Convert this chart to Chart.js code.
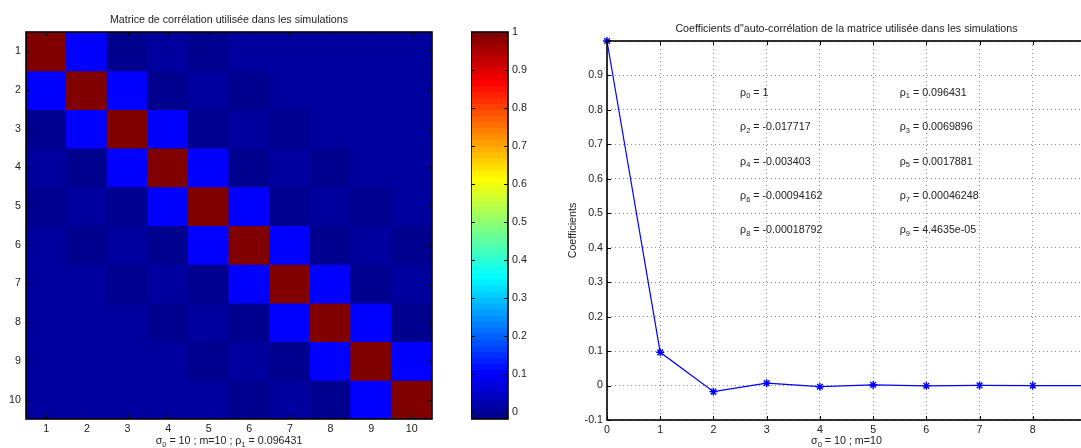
<!DOCTYPE html>
<html>
<head>
<meta charset="utf-8">
<title>Corrélation</title>
<script src="https://cdn.jsdelivr.net/npm/chart.js@4.4.1/dist/chart.umd.min.js"></script>
<style>
    html, body { margin: 0; padding: 0; background: #fff; overflow: hidden; width: 1081px; height: 448px; }
    .panel { position: absolute; top: 0; height: 448px; }
    #heat-panel { left: 0; width: 450px; }
    #bar-panel { left: 471px; width: 60px; }
    #coef-panel { left: 560px; width: 540px; }
</style>
</head>
<body>
<div class="panel" id="heat-panel"><canvas id="heatChart"></canvas></div>
<div class="panel" id="bar-panel"><canvas id="colorbarChart"></canvas></div>
<div class="panel" id="coef-panel"><canvas id="coefChart"></canvas></div>
<script>
// auto-correlation coefficients rho_k, k = 0..9
const lags = [0, 1, 2, 3, 4, 5, 6, 7, 8, 9];
const rho = [1, 0.096431, -0.017717, 0.0069896, -0.003403, 0.0017881, -0.00094162, 0.00046248, -0.00018792, 4.4635e-05];
const rhoText = ["1", "0.096431", "-0.017717", "0.0069896", "-0.003403", "0.0017881", "-0.00094162", "0.00046248", "-0.00018792", "4.4635e-05"];

const matrixLabels = ["1", "2", "3", "4", "5", "6", "7", "8", "9", "10"];
const heatTicks = [1, 2, 3, 4, 5, 6, 7, 8, 9, 10];
const colorbarTicks = [0, 0.1, 0.2, 0.3, 0.4, 0.5, 0.6, 0.7, 0.8, 0.9, 1];
const coefTicks = [-0.1, 0, 0.1, 0.2, 0.3, 0.4, 0.5, 0.6, 0.7, 0.8, 0.9, 1];

const sigma0 = 10;
const mSize = 10;

const FONT = '"Liberation Sans", Arial, Helvetica, sans-serif';
const FSIZE = 10.7;
const TEXT = "#222";

// matlab "jet" colormap
function jetMap(m) {
    const n = Math.ceil(m / 4);
    const u = [];
    for (let i = 1; i <= n; i++) u.push(i / n);
    for (let i = 1; i < n; i++) u.push(1);
    for (let i = n; i >= 1; i--) u.push(i / n);
    const g0 = Math.ceil(n / 2) - (m % 4 === 1 ? 1 : 0);
    const rgb = Array.from({ length: m }, () => [0, 0, 0]);
    u.forEach((val, k) => {
        const g = g0 + k;       // 0-based row index
        const r = g + n;
        const b = g - n;
        if (r >= 0 && r < m) rgb[r][0] = val;
        if (g >= 0 && g < m) rgb[g][1] = val;
        if (b >= 0 && b < m) rgb[b][2] = val;
    });
    return rgb.map(c => `rgb(${Math.round(c[0] * 255)},${Math.round(c[1] * 255)},${Math.round(c[2] * 255)})`);
}

const jet = jetMap(64);
const cMin = Math.min(...rho);
const cMax = Math.max(...rho);

function colorOf(v) {
    let k = Math.floor((v - cMin) / (cMax - cMin) * jet.length);
    k = Math.min(Math.max(k, 0), jet.length - 1);
    return jet[k];
}

// text with subscripts: parts = [[text, isSub], ...]
function drawRich(ctx, parts, x, y, align) {
    const big = FSIZE + "px " + FONT;
    const small = "7.5px " + FONT;
    let w = 0;
    parts.forEach(([t, sub]) => {
        ctx.font = sub ? small : big;
        w += ctx.measureText(t).width;
    });
    let cx = align === "center" ? x - w / 2 : x;
    ctx.textAlign = "left";
    ctx.textBaseline = "middle";
    parts.forEach(([t, sub]) => {
        ctx.font = sub ? small : big;
        ctx.fillText(t, cx, sub ? y + 3.5 : y);
        cx += ctx.measureText(t).width;
    });
}

// frame, inward ticks, titles and labels drawn the matlab way
const matlabFrame = {
    id: "matlabFrame",
    afterDraw(chart, args, opts) {
        const { ctx, chartArea: a } = chart;
        ctx.save();
        ctx.strokeStyle = "#000";
        ctx.lineWidth = 1;
        ctx.beginPath();
        if (opts.xTicks) {
            const sx = chart.scales.x;
            sx.ticks.forEach((t, i) => {
                const px = Math.round(sx.getPixelForTick(i)) + 0.5;
                ctx.moveTo(px, a.bottom); ctx.lineTo(px, a.bottom - 4);
                ctx.moveTo(px, a.top); ctx.lineTo(px, a.top + 4);
            });
        }
        if (opts.yTicks) {
            const sy = chart.scales.y;
            sy.ticks.forEach((t, i) => {
                const py = Math.round(sy.getPixelForTick(i)) + 0.5;
                ctx.moveTo(a.left, py); ctx.lineTo(a.left + 4, py);
                ctx.moveTo(a.right, py); ctx.lineTo(a.right - 4, py);
            });
        }
        ctx.stroke();
        ctx.lineWidth = 1.6;
        ctx.strokeRect(Math.round(a.left), Math.round(a.top),
            Math.round(a.right - a.left), Math.round(a.bottom - a.top));

        ctx.fillStyle = TEXT;
        const midX = (a.left + a.right) / 2;
        if (opts.title) {
            ctx.font = FSIZE + "px " + FONT;
            ctx.textAlign = "center";
            ctx.textBaseline = "middle";
            ctx.fillText(opts.title, midX, opts.titleY);
        }
        if (opts.xlabel) drawRich(ctx, opts.xlabel, midX, opts.xlabelY, "center");
        if (opts.ylabel) {
            ctx.save();
            ctx.translate(opts.ylabelX, (a.top + a.bottom) / 2);
            ctx.rotate(-Math.PI / 2);
            ctx.font = FSIZE + "px " + FONT;
            ctx.textAlign = "center";
            ctx.textBaseline = "middle";
            ctx.fillText(opts.ylabel, 0, 0);
            ctx.restore();
        }
        if (opts.notes) {
            const sx = chart.scales.x, sy = chart.scales.y;
            opts.notes.forEach(n => drawRich(ctx, n.parts, sx.getPixelForValue(n.x), sy.getPixelForValue(n.y), "left"));
        }
        ctx.restore();
    }
};

const tickFont = { family: FONT, size: FSIZE };

// ---- correlation matrix (floating bars, one dataset per row) ----
const heatDatasets = matrixLabels.map((rowLabel, i) => ({
    label: rowLabel,
    data: matrixLabels.map(() => [i + 0.5, i + 1.5]),
    backgroundColor: matrixLabels.map((_, j) => colorOf(rho[Math.abs(i - j)])),
    borderWidth: 0,
    inflateAmount: 0.5,
    barPercentage: 1,
    categoryPercentage: 1,
    grouped: false,
}));

new Chart(document.getElementById("heatChart"), {
    type: "bar",
    data: { labels: matrixLabels, datasets: heatDatasets },
    options: {
        animation: false,
        responsive: true,
        maintainAspectRatio: false,
        layout: { padding: { top: 32, right: 18, left: 0, bottom: 0 } },
        plugins: {
            legend: { display: false },
            tooltip: { enabled: false },
            matlabFrame: {
                xTicks: true, yTicks: true,
                title: "Matrice de corrélation utilisée dans les simulations", titleY: 20,
                xlabel: [["σ"], ["0", true], [" = " + sigma0 + " ; m=" + mSize + " ; ρ"], ["1", true], [" = " + rhoText[1]]],
                xlabelY: 441,
            },
        },
        scales: {
            x: {
                grid: { display: false, drawTicks: false },
                border: { display: false },
                ticks: { color: TEXT, font: tickFont, padding: 4, maxRotation: 0 },
                afterFit: s => { s.height = 29; },
            },
            y: {
                type: "linear",
                min: 0.5,
                max: 10.5,
                reverse: true,
                grid: { display: false, drawTicks: false },
                border: { display: false },
                ticks: { color: TEXT, font: tickFont, padding: 5 },
                afterBuildTicks: s => { s.ticks = heatTicks.map(v => ({ value: v })); },
                afterFit: s => { s.width = 26; },
            },
        },
    },
    plugins: [matlabFrame],
});

// ---- colour bar ----
const levelStep = (cMax - cMin) / jet.length;
const colorbarDatasets = jet.map((c, k) => ({
    data: [[cMin + k * levelStep, cMin + (k + 1) * levelStep]],
    backgroundColor: c,
    borderWidth: 0,
    inflateAmount: 0.5,
    barPercentage: 1,
    categoryPercentage: 1,
    grouped: false,
}));

new Chart(document.getElementById("colorbarChart"), {
    type: "bar",
    data: { labels: [""], datasets: colorbarDatasets },
    options: {
        animation: false,
        responsive: true,
        maintainAspectRatio: false,
        layout: { padding: { top: 32, bottom: 29, left: 0, right: 0 } },
        plugins: {
            legend: { display: false },
            tooltip: { enabled: false },
            matlabFrame: { yTicks: true },
        },
        scales: {
            x: { display: false },
            y: {
                position: "right",
                min: cMin,
                max: cMax,
                grid: { display: false, drawTicks: false },
                border: { display: false },
                ticks: { color: TEXT, font: tickFont, padding: 4, callback: v => String(Math.round(v * 10) / 10) },
                afterBuildTicks: s => { s.ticks = colorbarTicks.map(v => ({ value: v })); },
                afterFit: s => { s.width = 23; },
            },
        },
    },
    plugins: [matlabFrame],
});

// ---- auto-correlation coefficients ----
const notes = rho.map((r, k) => ({
    x: k % 2 === 0 ? 2.5 : 5.5,
    y: 0.85 - 0.1 * Math.floor(k / 2),
    parts: [["ρ"], [String(k), true], [" = " + rhoText[k]]],
}));

new Chart(document.getElementById("coefChart"), {
    type: "line",
    data: {
        datasets: [{
            data: lags.map((k, i) => ({ x: k, y: rho[i] })),
            borderColor: "#0000ff",
            borderWidth: 1.2,
            pointStyle: "star",
            pointRadius: 4,
            pointBorderColor: "#0000ff",
            pointBorderWidth: 1.4,
            fill: false,
            tension: 0,
            clip: false,
        }],
    },
    options: {
        animation: false,
        responsive: true,
        maintainAspectRatio: false,
        layout: { padding: { top: 41, right: 14, left: 0, bottom: 0 } },
        plugins: {
            legend: { display: false },
            tooltip: { enabled: false },
            matlabFrame: {
                xTicks: true, yTicks: true,
                title: "Coefficients d\"auto-corrélation de la matrice utilisée dans les simulations", titleY: 29,
                xlabel: [["σ"], ["0", true], [" = " + sigma0 + " ; m=" + mSize]],
                xlabelY: 441,
                ylabel: "Coefficients", ylabelX: 13,
                notes: notes,
            },
        },
        scales: {
            x: {
                type: "linear",
                min: 0,
                max: 9,
                grid: { color: "rgba(0,0,0,0.45)", drawTicks: false },
                border: { display: false, dash: [1, 3] },
                ticks: { color: TEXT, font: tickFont, padding: 4, maxRotation: 0 },
                afterBuildTicks: s => { s.ticks = lags.map(v => ({ value: v })); },
                afterFit: s => { s.height = 28; },
            },
            y: {
                min: -0.1,
                max: 1,
                grid: { color: "rgba(0,0,0,0.45)", drawTicks: false },
                border: { display: false, dash: [1, 3] },
                ticks: {
                    color: TEXT, font: tickFont, padding: 4,
                    callback: v => (Math.abs(v - 1) < 1e-9 ? "" : String(Math.round(v * 10) / 10)),
                },
                afterBuildTicks: s => { s.ticks = coefTicks.map(v => ({ value: v })); },
                afterFit: s => { s.width = 47; },
            },
        },
    },
    plugins: [matlabFrame],
});
</script>
</body>
</html>
